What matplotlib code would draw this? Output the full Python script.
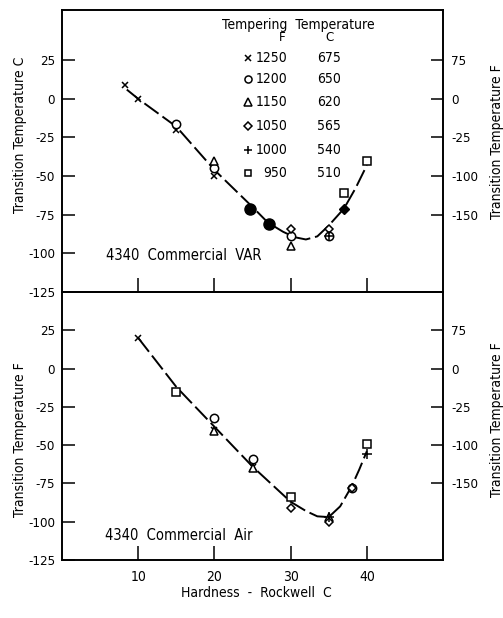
import matplotlib
matplotlib.use("Agg")
import matplotlib.pyplot as plt

plt.rcParams['font.family'] = ['DejaVu Sans']
plt.rcParams['font.stretch'] = 'condensed'

# --- data (hardness HRC, transition temperature C) ---
# 4340 Commercial VAR
var_1250_h = [8.2, 10, 15, 20]
var_1250_t = [9, 0, -20, -50]
var_1200_h = [15, 20, 30, 35]
var_1200_t = [-16, -45, -89, -89]
var_1150_h = [20, 30]
var_1150_t = [-40, -95]
var_1050_h = [30, 35]
var_1050_t = [-84, -84]
var_1000_h = [35]
var_1000_t = [-89]
var_950_h = [37, 40]
var_950_t = [-61, -40]
var_solid_h = [24.7, 27.1]      # overlapping points, printed as solid dots
var_solid_t = [-71, -81]
var_soliddia_h = [37]
var_soliddia_t = [-71]
var_curve_h = [8.5, 10, 15, 20, 25, 27, 29, 30.5, 32, 33.5, 35, 37, 38.5, 40]
var_curve_t = [6, 0, -18, -46, -70, -80, -86, -89.5, -91, -89, -82, -71, -58, -43]

# 4340 Commercial Air
air_1250_h = [10, 15, 20, 25, 30]
air_1250_t = [20, -15, -40, -64, -84]
air_1200_h = [20, 25, 38]
air_1200_t = [-32, -59, -78]
air_1150_h = [20, 25, 35]
air_1150_t = [-41, -65, -97]
air_1050_h = [30, 35, 38]
air_1050_t = [-91, -100, -78]
air_1000_h = [35, 40]
air_1000_t = [-97, -56]
air_950_h = [15, 30, 40]
air_950_t = [-15, -84, -49]
air_curve_h = [10, 15, 20, 25, 30, 32, 33.5, 35, 36.5, 38, 39, 40]
air_curve_t = [20, -12, -38, -64, -87, -93, -96.5, -97, -90, -77, -66, -54]

# tick labels
x_ticks = [10, 20, 30, 40]
left_ticks = [25, 0, -25, -50, -75, -100, -125]
left_labels = ['25', '0', '-25', '-50', '-75', '-100', '-125']
right_ticks = [25, 0, -25, -50, -75]
right_labels = ['75', '0', '-25', '-100', '-150']

legend_f = ['1250', '1200', '1150', '1050', '1000', '950']
legend_c = ['675', '650', '620', '565', '540', '510']

mk = {'1250': 'x', '1200': 'o', '1150': '^', '1050': 'D', '1000': '+', '950': 's'}
msz = {'1250': 5, '1200': 6, '1150': 6, '1050': 4.5, '1000': 7, '950': 5.5}

fig = plt.figure(figsize=(5.03, 6.18), dpi=100)
ax1 = fig.add_axes([0.1233, 0.5275, 0.7575, 0.4563])
ax2 = fig.add_axes([0.1233, 0.0939, 0.7575, 0.4336])


def pts(ax, h, t, key):
    ax.plot(h, t, linestyle='none', marker=mk[key], markersize=msz[key],
            markerfacecolor='white' if key not in ('1250', '1000') else 'black',
            markeredgecolor='black', markeredgewidth=1.1, zorder=3)


def setup(ax, ylim, xlabels):
    ax.set_xlim(0, 50)
    ax.set_ylim(*ylim)
    ax.set_xticks(x_ticks)
    if xlabels:
        ax.set_xticklabels([str(v) for v in x_ticks])
    else:
        ax.set_xticklabels([])
    ax.set_yticks(left_ticks)
    ax.set_yticklabels(left_labels)
    ax.tick_params(axis='x', direction='in', length=10, width=1.1, top=False,
                   labelsize=10, pad=7)
    ax.tick_params(axis='y', direction='in', length=9, width=1.1, labelsize=9.5, pad=5)
    for s in ax.spines.values():
        s.set_linewidth(1.2)
    axr = ax.twinx()
    axr.set_ylim(*ylim)
    axr.set_yticks(right_ticks)
    axr.set_yticklabels(right_labels)
    axr.tick_params(axis='y', direction='in', length=9, width=1.1, labelsize=9.5, pad=6)
    for s in axr.spines.values():
        s.set_linewidth(1.2)
    return axr


setup(ax1, (-125, 57.5), False)
setup(ax2, (-125, 50), True)

# top panel
ax1.plot(var_curve_h, var_curve_t, color='black', lw=1.4, dashes=(9, 2.5), zorder=2)
pts(ax1, var_1250_h, var_1250_t, '1250')
pts(ax1, var_1200_h, var_1200_t, '1200')
pts(ax1, var_1150_h, var_1150_t, '1150')
pts(ax1, var_1050_h, var_1050_t, '1050')
pts(ax1, var_1000_h, var_1000_t, '1000')
pts(ax1, var_950_h, var_950_t, '950')
ax1.plot(var_solid_h, var_solid_t, 'o', color='black', markersize=8, zorder=4)
ax1.plot(var_soliddia_h, var_soliddia_t, 'D', color='black', markersize=5, zorder=4)

# bottom panel
ax2.plot(air_curve_h, air_curve_t, color='black', lw=1.4, dashes=(9, 2.5), zorder=2)
pts(ax2, air_1250_h, air_1250_t, '1250')
pts(ax2, air_1200_h, air_1200_t, '1200')
pts(ax2, air_1150_h, air_1150_t, '1150')
pts(ax2, air_1050_h, air_1050_t, '1050')
pts(ax2, air_1000_h, air_1000_t, '1000')
pts(ax2, air_950_h, air_950_t, '950')

ax1.text(0.115, 0.131, '4340  Commercial  VAR', transform=ax1.transAxes,
         fontsize=10.5, va='center', ha='left')
ax2.text(0.113, 0.093, '4340  Commercial  Air', transform=ax2.transAxes,
         fontsize=10.5, va='center', ha='left')

# legend drawn by hand
ax1.text(0.619, 0.947, 'Tempering  Temperature', transform=ax1.transAxes,
         fontsize=10, ha='center', va='center')
ax1.text(0.578, 0.902, 'F', transform=ax1.transAxes, fontsize=9.5, ha='center', va='center')
ax1.text(0.701, 0.902, 'C', transform=ax1.transAxes, fontsize=9.5, ha='center', va='center')
rows_y = [0.830, 0.755, 0.674, 0.589, 0.504, 0.422]
for f, c, y in zip(legend_f, legend_c, rows_y):
    ax1.plot([0.487], [y], marker=mk[f], markersize=msz[f] * 0.85,
             markerfacecolor='white' if f not in ('1250', '1000') else 'black',
             markeredgecolor='black', markeredgewidth=1.1, linestyle='none',
             transform=ax1.transAxes, clip_on=False)
    ax1.text(0.592, y, f, transform=ax1.transAxes, fontsize=10, ha='right', va='center')
    ax1.text(0.700, y, c, transform=ax1.transAxes, fontsize=10, ha='center', va='center')

# axis titles
fig.text(0.040, 1 - 135 / 618, 'Transition Temperature C', rotation=90,
         ha='center', va='center', fontsize=10)
fig.text(0.040, 1 - 440 / 618, 'Transition Temperature F', rotation=90,
         ha='center', va='center', fontsize=10)
fig.text(0.988, 1 - 142 / 618, 'Transition Temperature F', rotation=90,
         ha='center', va='center', fontsize=10)
fig.text(0.988, 1 - 420 / 618, 'Transition Temperature F', rotation=90,
         ha='center', va='center', fontsize=10)
fig.text(0.51, 1 - 593 / 618, 'Hardness  -  Rockwell  C', ha='center', va='center',
         fontsize=10)

fig.savefig('out.png', dpi=100)
